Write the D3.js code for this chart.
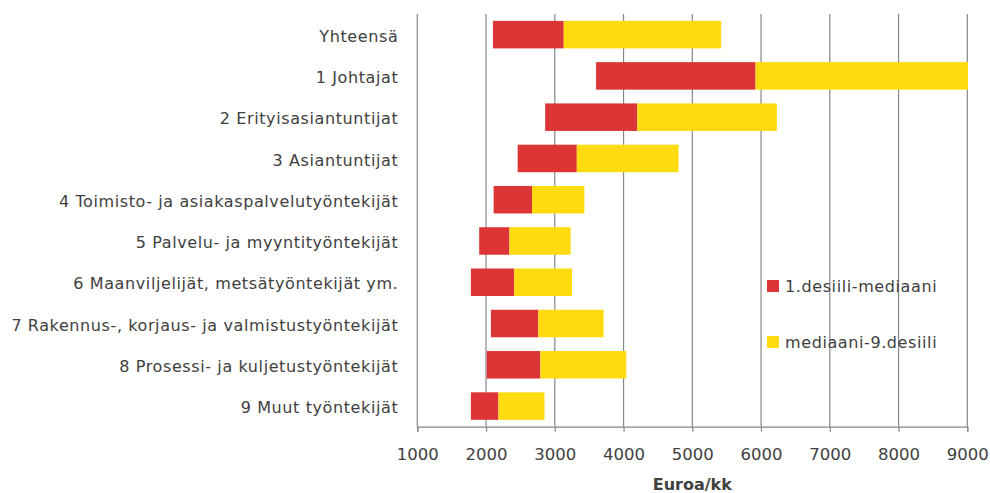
<!DOCTYPE html>
<html>
<head>
<meta charset="utf-8">
<script src="https://cdn.jsdelivr.net/npm/d3@7"></script>
<style>
  html, body { margin: 0; padding: 0; background: #fff; }
  svg { display: block; }
  text { font-family: "DejaVu Sans", Verdana, sans-serif; fill: #404040; }
</style>
</head>
<body>
<svg id="chart" width="990" height="493"></svg>
<script>
// ---- Data ----
const categories = [
  "Yhteensä",
  "1 Johtajat",
  "2 Erityisasiantuntijat",
  "3 Asiantuntijat",
  "4 Toimisto- ja asiakaspalvelutyöntekijät",
  "5 Palvelu- ja myyntityöntekijät",
  "6 Maanviljelijät, metsätyöntekijät ym.",
  "7 Rakennus-, korjaus- ja valmistustyöntekijät",
  "8 Prosessi- ja kuljetustyöntekijät",
  "9 Muut työntekijät"
];
const decile1 = [2100, 3600, 2860, 2460, 2110, 1900, 1780, 2070, 2010, 1780];
const median  = [3130, 5920, 4200, 3320, 2670, 2340, 2410, 2760, 2790, 2180];
const decile9 = [5420, 9010, 6230, 4800, 3430, 3230, 3250, 3710, 4040, 2850];
const seriesNames = ["1.desiili-mediaani", "mediaani-9.desiili"];
const seriesColors = ["#DC3535", "#FFDB0F"];
const xTicks = [1000, 2000, 3000, 4000, 5000, 6000, 7000, 8000, 9000];
const xTitle = "Euroa/kk";

// ---- Layout ----
const svg = d3.select("#chart");
const pLeft = 417.3, pRight = 967.3, pTop = 14, pBottom = 426.7;
const font = "'DejaVu Sans', Verdana, sans-serif";

const x = d3.scaleLinear().domain([1000, 9000]).range([pLeft, pRight]);
const y = d3.scaleBand().domain(categories).range([pTop, pBottom]).paddingInner(1/3).paddingOuter(1/6);

// gridlines
svg.append("g")
  .selectAll("line")
  .data(xTicks)
  .join("line")
  .attr("x1", d => x(d)).attr("x2", d => x(d))
  .attr("y1", pTop).attr("y2", pBottom)
  .attr("stroke", "#868686").attr("stroke-width", 1.2);

// bars
const rows = categories.map((c, i) => ({c, d1: decile1[i], m: median[i], d9: decile9[i]}));
const g = svg.append("g");
g.selectAll("rect.r1").data(rows).join("rect")
  .attr("class", "r1")
  .attr("x", d => x(d.d1)).attr("width", d => x(d.m) - x(d.d1))
  .attr("y", d => y(d.c)).attr("height", y.bandwidth())
  .attr("fill", seriesColors[0]);
g.selectAll("rect.r2").data(rows).join("rect")
  .attr("class", "r2")
  .attr("x", d => x(d.m)).attr("width", d => x(d.d9) - x(d.m))
  .attr("y", d => y(d.c)).attr("height", y.bandwidth())
  .attr("fill", seriesColors[1]);

// x axis
const xAxis = d3.axisBottom(x).tickValues(xTicks).tickSize(5).tickPadding(17).tickFormat(d3.format("d"));
const ax = svg.append("g").attr("transform", `translate(0,${pBottom})`).call(xAxis);
ax.select(".domain").attr("stroke", "#868686").attr("stroke-width", 1.2);
ax.selectAll(".tick line").attr("stroke", "#868686").attr("stroke-width", 1.2);
ax.selectAll(".tick text").attr("font-size", 16.5).attr("fill", "#404040")
  .style("font-family", font);

// y axis (labels)
const yAxis = d3.axisLeft(y).tickSize(0).tickPadding(19);
const ay = svg.append("g").attr("transform", `translate(${pLeft},0)`).call(yAxis);
ay.select(".domain").remove();
ay.selectAll(".tick text").attr("font-size", 16).attr("fill", "#404040")
  .style("font-family", font).style("letter-spacing", "0.6px").attr("dy", "0.45em");

// axis title
svg.append("text")
  .attr("x", (pLeft + pRight) / 2).attr("y", 490)
  .attr("text-anchor", "middle")
  .attr("font-size", 16).attr("font-weight", "bold")
  .text(xTitle);

// legend
const legendY = [280, 336];
const lg = svg.append("g");
seriesNames.forEach((n, i) => {
  lg.append("rect").attr("x", 767).attr("y", legendY[i]).attr("width", 12).attr("height", 12)
    .attr("fill", seriesColors[i]);
  lg.append("text").attr("x", 785).attr("y", legendY[i] + 12)
    .attr("font-size", 16).style("letter-spacing", "0.6px").text(n);
});
</script>
</body>
</html>
